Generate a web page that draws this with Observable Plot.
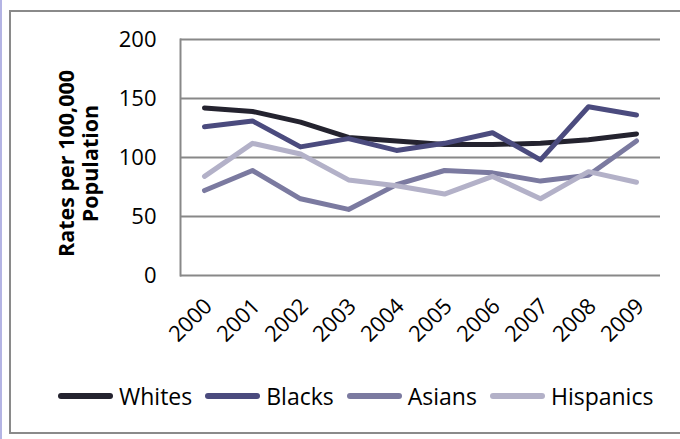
<!DOCTYPE html>
<html>
<head>
<meta charset="utf-8">
<script src="https://cdn.jsdelivr.net/npm/d3@7"></script>
<script src="https://cdn.jsdelivr.net/npm/@observablehq/plot@0.6"></script>
<style>
  html, body { margin: 0; padding: 0; background: #fff; }
  #wrap { position: relative; width: 680px; height: 439px; overflow: hidden; font-family: "Open Sans", sans-serif; }
  #strip { position: absolute; left: 0; top: 0; width: 2px; height: 439px; background: #b4b4e4; }
  #box { position: absolute; left: 9px; top: 10px; width: 700px; height: 424px; border: 2px solid #8a8a8a; box-sizing: border-box; }
  #chart { position: absolute; left: 0; top: 0; }
  #legend { position: absolute; left: 58px; top: 380px; display: flex; gap: 13px; align-items: center; font-size: 23px; line-height: 32px; color: #000; }
  .item { display: flex; align-items: center; gap: 6px; }
  .sw { width: 55px; height: 6px; border-radius: 3px; }
</style>
</head>
<body>
<div id="wrap">
  <div id="strip"></div>
  <div id="box"></div>
  <div id="chart"></div>
  <div id="legend"></div>
</div>
<script>
const years = ["2000","2001","2002","2003","2004","2005","2006","2007","2008","2009"];
const seriesNames = ["Whites","Blacks","Asians","Hispanics"];
const whites    = [142, 139, 130, 117, 114, 111, 111, 112, 115, 120];
const blacks    = [126, 131, 109, 116, 106, 112, 121, 98, 143, 136];
const asians    = [72, 89, 65, 56, 77, 89, 87, 80, 85, 114];
const hispanics = [84, 112, 103, 81, 76, 69, 84, 65, 88, 79];
const colors = ["#24232f", "#4b4b7e", "#7b7aa0", "#b3b1c8"];
const yTicks = [0, 50, 100, 150, 200];
const yLabel = "Rates per 100,000\nPopulation";

const valuesBySeries = [whites, blacks, asians, hispanics];
const data = seriesNames.flatMap((s, i) => years.map((y, j) => ({series: s, year: y, value: valuesBySeries[i][j]})));

const chart = Plot.plot({
  width: 680,
  height: 370,
  marginLeft: 180,
  marginRight: 20,
  marginTop: 39,
  marginBottom: 95,
  style: {fontFamily: "Open Sans, sans-serif", fontSize: "22px", color: "#000", background: "transparent"},
  x: {type: "point", domain: years, padding: 0.5},
  y: {domain: [0, 200]},
  color: {domain: seriesNames, range: colors},
  marks: [
    Plot.ruleY(yTicks, {stroke: "#888", strokeWidth: 2, strokeOpacity: 1}),
    Plot.frame({anchor: "left", stroke: "#888", strokeWidth: 2}),
    Plot.axisY({ticks: yTicks, tickSize: 0, tickPadding: 24, label: null, fontSize: 22}),
    Plot.axisX({tickSize: 0, tickRotate: -45, tickPadding: 27, dx: 4, label: null, fontSize: 22}),
    Plot.text([yLabel], {frameAnchor: "left", textAnchor: "middle", rotate: -90, dx: -102, dy: 6, fontWeight: "bold", fontSize: 21.5, lineHeight: 1.1, fill: "#000"}),
    Plot.line(data, {x: "year", y: "value", z: "series", stroke: "series", strokeWidth: 5, strokeLinecap: "round", strokeLinejoin: "round"})
  ]
});
document.getElementById("chart").appendChild(chart);

const legend = document.getElementById("legend");
seriesNames.forEach((s, i) => {
  const item = document.createElement("div");
  item.className = "item";
  const sw = document.createElement("div");
  sw.className = "sw";
  sw.style.background = colors[i];
  const t = document.createElement("span");
  t.textContent = s;
  item.appendChild(sw);
  item.appendChild(t);
  legend.appendChild(item);
});
</script>
</body>
</html>
